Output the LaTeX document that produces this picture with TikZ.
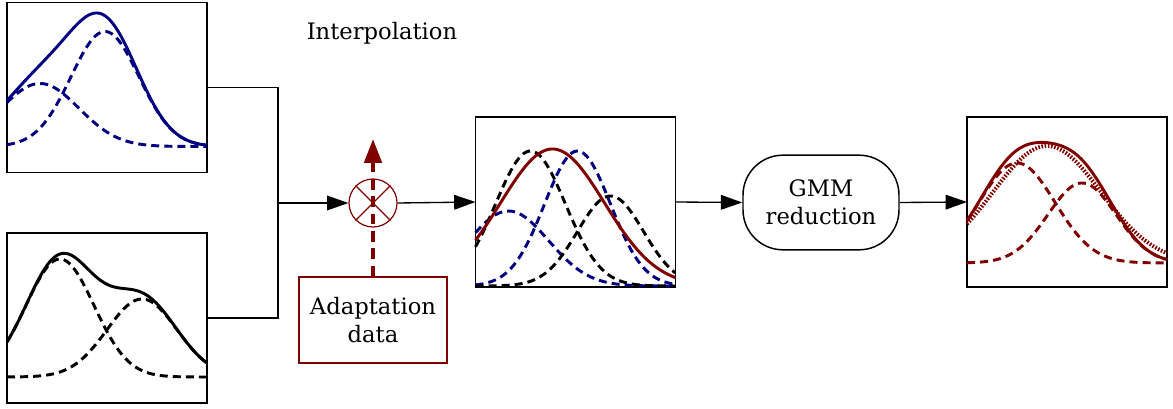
\documentclass[tikz,border=0pt]{standalone}
\usepackage{fontspec}
\setmainfont{DejaVu Serif}
\usetikzlibrary{arrows.meta}
\definecolor{gmmblue}{RGB}{0,0,128}
\definecolor{gmmred}{RGB}{128,0,0}
\tikzset{
  declare function={g(\x,\m,\w)=exp(-((\x-\m)^2)/(2*\w*\w));},
  plotbox/.style={draw, line width=1.4pt, inner sep=0pt, outer sep=0pt,
    minimum width=150pt, minimum height=127.5pt},
  curve/.style={line width=2.2pt, domain=0:2, samples=80},
  comp/.style={curve, dash pattern=on 6pt off 3.8pt},
  flow/.style={line width=1pt, -{Triangle[length=16pt,width=11pt]}},
  txt/.style={font=\fontsize{17}{21}\selectfont, align=center},
}
\begin{document}
\begin{tikzpicture}[x=0.75pt, y=-0.75pt]
  \useasboundingbox (0,0) rectangle (1173,409);
  % input models
  \node[plotbox] (boxA) at (107,87.5) {};
  \node[plotbox] (boxB) at (107,318) {};
  \begin{scope}[shift={(boxA.south west)}, x=75pt, y=0.75pt, gmmblue]
    \draw[comp] plot (\x,{26+63*g(\x,0.33,0.39)});
    \draw[comp] plot (\x,{26+115*g(\x,0.98,0.34)});
    \draw[curve] plot (\x,{26+63*g(\x,0.33,0.39)+115*g(\x,0.98,0.34)});
  \end{scope}
  \begin{scope}[shift={(boxB.south west)}, x=75pt, y=0.75pt]
    \draw[comp] plot (\x,{26+118*g(\x,0.53,0.34)});
    \draw[comp] plot (\x,{26+78*g(\x,1.35,0.35)});
    \draw[curve] plot (\x,{26+118*g(\x,0.53,0.34)+78*g(\x,1.35,0.35)});
  \end{scope}
  \node[txt] (interp) at (382,33) {Interpolation};
  % mixing
  \coordinate (join) at (278,203);
  \draw[line width=1pt] (boxA.east) -| (join);
  \draw[line width=1pt] (boxB.east) -| (join);
  \node[circle, draw=gmmred, line width=0.9pt, minimum size=36pt, inner sep=0pt] (mix) at (373,203) {};
  \draw[gmmred, line width=0.9pt] (mix.north west) -- (mix.south east)
    (mix.north east) -- (mix.south west);
  \draw[flow] (join) -- (mix.west);
  \node[txt, draw=gmmred, line width=0.9pt, minimum width=111pt, minimum height=64.5pt,
    inner sep=2pt] (adapt) at (373,320) {Adaptation\\data};
  \coordinate (adapttip) at (373,139);
  \draw[gmmred, line width=3pt, dash pattern=on 8pt off 5pt,
    -{Triangle[length=18pt,width=13pt]}] (adapt.north) -- (adapttip);
  % interpolated model
  \node[plotbox] (boxC) at (575.5,202) {};
  \begin{scope}[shift={(boxC.south west)}, x=75pt, y=0.75pt]
    \draw[comp, gmmblue] plot (\x,{1+75*g(\x,0.33,0.40)});
    \draw[comp, gmmblue] plot (\x,{1+135*g(\x,1.02,0.33)});
    \draw[comp] plot (\x,{1+135*g(\x,0.55,0.35)});
    \draw[comp] plot (\x,{1+90*g(\x,1.35,0.33)});
    \draw[curve, gmmred] plot (\x,{1+137*g(\x,0.77,0.52)});
  \end{scope}
  \draw[flow] (mix.east) -- (boxC.west);
  % reduction
  \node[txt, draw, line width=1.1pt, rounded corners=30pt, minimum width=117pt,
    minimum height=71pt, inner sep=2pt] (gmm) at (821,202.5) {GMM\\reduction};
  \draw[flow] (boxC.east) -- (gmm.west);
  \node[plotbox] (boxD) at (1067,202) {};
  \begin{scope}[shift={(boxD.south west)}, x=75pt, y=0.75pt, gmmred]
    \draw[comp] plot (\x,{24+100*g(\x,0.50,0.38)});
    \draw[comp] plot (\x,{24+80*g(\x,1.15,0.34)});
    \draw[curve, dash pattern=on 1.2pt off 1.2pt, line width=3pt] plot (\x,{24+117*g(\x,0.80,0.54)});
    \draw[curve] plot (\x,{24+100*g(\x,0.50,0.38)+80*g(\x,1.15,0.34)});
  \end{scope}
  \draw[flow] (gmm.east) -- (boxD.west);
\end{tikzpicture}
\end{document}
